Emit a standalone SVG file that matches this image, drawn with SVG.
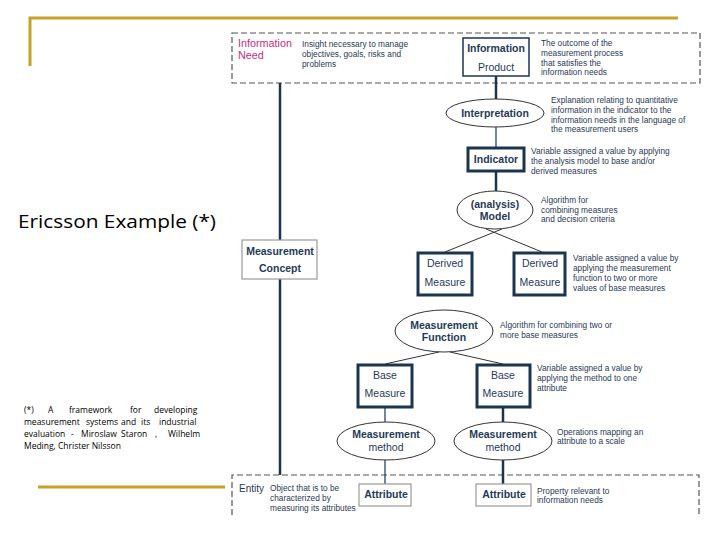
<svg xmlns="http://www.w3.org/2000/svg" width="720" height="540" viewBox="0 0 720 540">
<style>
.gold{stroke:#c8a02a;stroke-width:3;fill:none}
.dash{stroke:#555;stroke-width:1.2;stroke-dasharray:6,3;fill:none}
.thick{stroke:#1b3550;stroke-width:3;fill:#fff}
.thin{stroke:#1b3550;stroke-width:1.5;fill:#fff}
.gray{stroke:#999;stroke-width:1.2;fill:#fff}
.ell{stroke:#333;stroke-width:1;fill:#fff}
.lbl{font-family:"Liberation Sans",Arial,sans-serif;font-size:10.5px;font-weight:bold;fill:#1f3a5a;text-anchor:middle}
.nb{font-weight:normal}
.desc{font-family:"Liberation Sans",Arial,sans-serif;font-size:8.3px;fill:#2a3a55}
.cthick{stroke:#1b3550;stroke-width:2.5;fill:none}
.cthin{stroke:#1b3550;stroke-width:1.2;fill:none}
.cline{stroke:#333;stroke-width:1;fill:none}
</style>
<rect width="720" height="540" fill="#fff"/>
<g id="decor">
<path class="gold" d="M30,66 V18 H678"/>
<line class="gold" x1="38" y1="487" x2="225" y2="487"/>
</g>
<g id="title">
<text x="18" y="228" font-family="'Open Sans','Liberation Sans',sans-serif" font-size="19" fill="#000" textLength="198" lengthAdjust="spacingAndGlyphs">Ericsson Example (*)</text>
</g>
<g id="footnote" font-family="'Open Sans','Liberation Sans',sans-serif" font-size="8.5" fill="#000">
<text y="413"><tspan x="24">(*)</tspan><tspan x="48">A</tspan><tspan x="69">framework</tspan><tspan x="130">for</tspan><tspan x="154">developing</tspan></text>
<text y="425"><tspan x="24">measurement</tspan><tspan x="86">systems</tspan><tspan x="121">and</tspan><tspan x="141">its</tspan><tspan x="159">industrial</tspan></text>
<text y="437"><tspan x="24">evaluation</tspan><tspan x="71">-</tspan><tspan x="81">Miroslaw</tspan><tspan x="121">Staron</tspan><tspan x="155">,</tspan><tspan x="168">Wilhelm</tspan></text>
<text x="24" y="449">Meding, Christer Nilsson</text>
</g>
<g id="regions">
<rect class="dash" x="232" y="33" width="468" height="50"/>
<path class="dash" d="M232,515 V475 H699 V515"/>
</g>
<g id="connectors">
<line class="cthick" x1="280" y1="83" x2="280" y2="475"/>
<line class="cthick" x1="496" y1="76" x2="496" y2="100"/>
<line class="cthin" x1="496" y1="127" x2="496" y2="148"/>
<line class="cthick" x1="496" y1="171" x2="496" y2="192"/>
<line class="cline" x1="445" y1="252" x2="502" y2="229"/>
<line class="cline" x1="542" y1="252" x2="486" y2="229"/>
<line class="cline" x1="385" y1="364" x2="439" y2="352"/>
<line class="cline" x1="503" y1="364" x2="450" y2="352"/>
<line class="cthin" x1="385" y1="407" x2="385" y2="423"/>
<line class="cthick" x1="503" y1="407" x2="503" y2="423"/>
<line class="cthin" x1="385" y1="460" x2="385" y2="484"/>
<line class="cthick" x1="503" y1="460" x2="503" y2="484"/>
</g>
<g id="information-need">
<text x="238" y="47" font-family="'Liberation Sans',Arial,sans-serif" font-size="10.8" fill="#cc2a80">Information</text>
<text x="238" y="59" font-family="'Liberation Sans',Arial,sans-serif" font-size="10.8" fill="#cc2a80">Need</text>
<text class="desc" x="302" y="47">Insight necessary to manage</text>
<text class="desc" x="302" y="57">objectives, goals, risks and</text>
<text class="desc" x="302" y="67">problems</text>
</g>
<g id="information-product">
<rect class="thin" x="463" y="38" width="66" height="38"/>
<text class="lbl" x="496" y="52">Information</text>
<text class="lbl nb" x="496" y="71">Product</text>
<text class="desc" x="541" y="46">The outcome of the</text>
<text class="desc" x="541" y="56">measurement process</text>
<text class="desc" x="541" y="66">that satisfies the</text>
<text class="desc" x="541" y="75">information needs</text>
</g>
<g id="interpretation">
<ellipse class="ell" cx="495" cy="113" rx="49" ry="14"/>
<text class="lbl" x="495" y="117">Interpretation</text>
<text class="desc" x="551" y="103">Explanation relating to quantitative</text>
<text class="desc" x="551" y="113">information in the indicator to the</text>
<text class="desc" x="551" y="123">information needs in the language of</text>
<text class="desc" x="551" y="132">the measurement users</text>
</g>
<g id="indicator">
<rect class="thick" x="468" y="148" width="56" height="23"/>
<text class="lbl" x="496" y="163">Indicator</text>
<text class="desc" x="531" y="154">Variable assigned a value by applying</text>
<text class="desc" x="531" y="164">the analysis model to base and/or</text>
<text class="desc" x="531" y="174">derived measures</text>
</g>
<g id="analysis-model">
<ellipse class="ell" cx="495" cy="210" rx="38" ry="19"/>
<text class="lbl" x="495" y="208">(analysis)</text>
<text class="lbl" x="495" y="220">Model</text>
<text class="desc" x="541" y="203">Algorithm for</text>
<text class="desc" x="541" y="213">combining measures</text>
<text class="desc" x="541" y="222">and decision criteria</text>
</g>
<g id="measurement-concept">
<rect class="gray" x="242" y="240" width="75" height="39"/>
<text class="lbl" x="280" y="255">Measurement</text>
<text class="lbl" x="280" y="272">Concept</text>
</g>
<g id="derived-measure-1">
<rect class="thick" x="418" y="253" width="54" height="42"/>
<text class="lbl nb" x="445" y="267">Derived</text>
<text class="lbl nb" x="445" y="286">Measure</text>
</g>
<g id="derived-measure-2">
<rect class="thick" x="514" y="253" width="51" height="42"/>
<text class="lbl nb" x="540" y="267">Derived</text>
<text class="lbl nb" x="540" y="286">Measure</text>
<text class="desc" x="573" y="261">Variable assigned a value by</text>
<text class="desc" x="573" y="271">applying the measurement</text>
<text class="desc" x="573" y="281">function to two or more</text>
<text class="desc" x="573" y="291">values of base measures</text>
</g>
<g id="measurement-function">
<ellipse class="ell" cx="444" cy="331" rx="49" ry="21"/>
<text class="lbl" x="444" y="329">Measurement</text>
<text class="lbl" x="444" y="341">Function</text>
<text class="desc" x="500" y="328">Algorithm for combining  two or</text>
<text class="desc" x="500" y="338">more base measures</text>
</g>
<g id="base-measure-1">
<rect class="thick" x="358" y="365" width="54" height="42"/>
<text class="lbl nb" x="385" y="379">Base</text>
<text class="lbl nb" x="385" y="397">Measure</text>
</g>
<g id="base-measure-2">
<rect class="thick" x="477" y="365" width="53" height="42"/>
<text class="lbl nb" x="503" y="379">Base</text>
<text class="lbl nb" x="503" y="397">Measure</text>
<text class="desc" x="537" y="371">Variable assigned a value by</text>
<text class="desc" x="537" y="381">applying the method to one</text>
<text class="desc" x="537" y="391">attribute</text>
</g>
<g id="measurement-method-1">
<ellipse class="ell" cx="386" cy="441" rx="49" ry="19"/>
<text class="lbl" x="386" y="438">Measurement</text>
<text class="lbl nb" x="386" y="451">method</text>
</g>
<g id="measurement-method-2">
<ellipse class="ell" cx="503" cy="441" rx="49" ry="19"/>
<text class="lbl" x="503" y="438">Measurement</text>
<text class="lbl nb" x="503" y="451">method</text>
<text class="desc" x="557" y="435">Operations mapping an</text>
<text class="desc" x="557" y="444">attribute to a scale</text>
</g>
<g id="entity">
<text x="239" y="492" font-family="'Liberation Sans',Arial,sans-serif" font-size="10" fill="#1f3a5a">Entity</text>
<text class="desc" x="270" y="491">Object that is to be</text>
<text class="desc" x="270" y="501">characterized by</text>
<text class="desc" x="270" y="511">measuring its attributes</text>
</g>
<g id="attribute-1">
<rect class="gray" x="359" y="484" width="52" height="22"/>
<text class="lbl" x="386" y="498">Attribute</text>
</g>
<g id="attribute-2">
<rect class="gray" x="476" y="484" width="55" height="22"/>
<text class="lbl" x="504" y="498">Attribute</text>
<text class="desc" x="537" y="494">Property relevant to</text>
<text class="desc" x="537" y="503">information needs</text>
</g>
</svg>
